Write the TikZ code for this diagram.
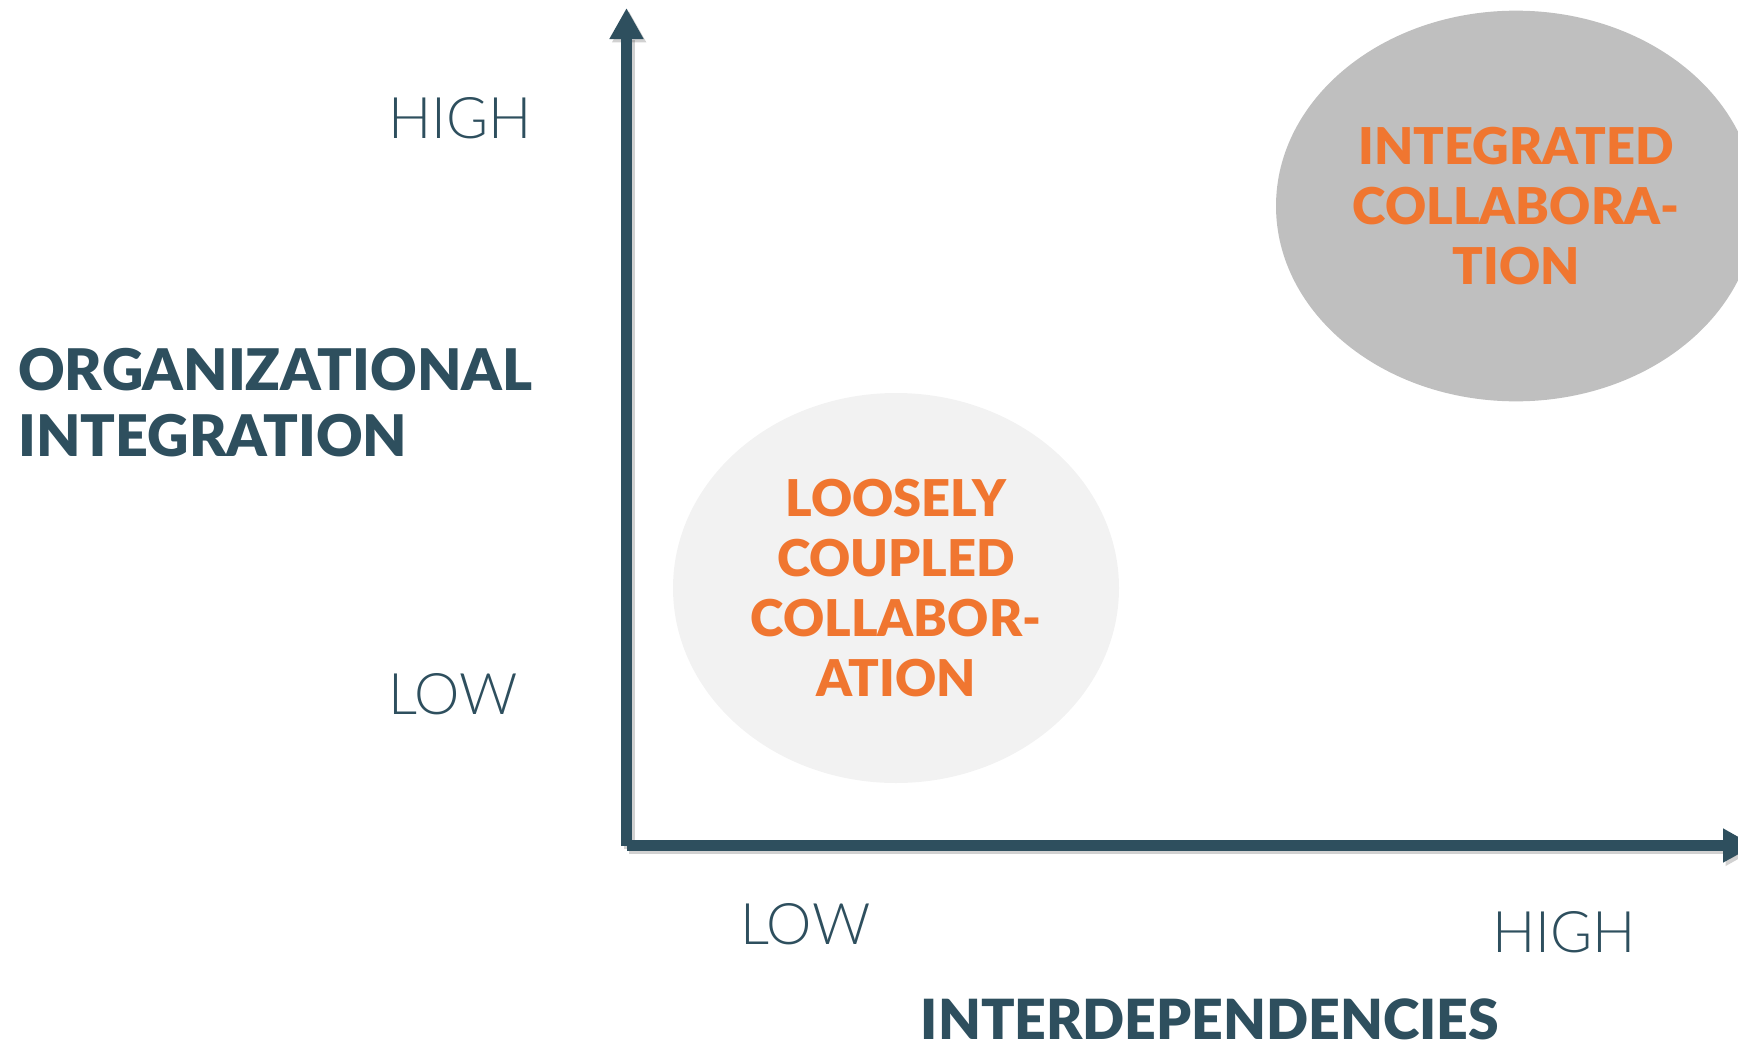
\documentclass[tikz,border=0pt]{standalone}
\usepackage{fontspec}
\setmainfont{Lato}
\newfontfamily\latolight{Lato Light}
\newfontfamily\latoblack{Lato Black}
\usepackage{tikz}
\usetikzlibrary{arrows.meta}
\usetikzlibrary{shapes.geometric}
\definecolor{axisblue}{RGB}{46,79,94}
\definecolor{quadorange}{RGB}{240,118,48}
\definecolor{bubblegrey}{RGB}{191,191,191}
\definecolor{bubblelight}{RGB}{242,242,242}
\tikzset{
  axis/.style={draw=axisblue, line width=8.25pt, line cap=butt, -{Triangle[width=24pt, length=23.25pt]}},
  axisshadow/.style={draw=black, opacity=0.18, line width=8.25pt, line cap=butt, -{Triangle[width=24pt, length=23.25pt]}},
  bubble/.style={ellipse, inner sep=0pt, align=center, text=quadorange, font=\latoblack\fontsize{38}{45}\selectfont},
  scalelabel/.style={inner sep=0pt, text=axisblue, font=\latolight\fontsize{43}{50}\selectfont},
  axistitle/.style={inner sep=0pt, text=axisblue, font=\latoblack\fontsize{43}{49.5}\selectfont}
}

\begin{document}
\begin{tikzpicture}[x=0.75pt,y=0.75pt,yscale=-1,xscale=1]
\useasboundingbox (0,0) rectangle (1738,1042);
\clip (0,0) rectangle (1738,1042);

%Bubbles
\node[bubble, fill=bubblelight, minimum width=334.5pt, minimum height=292.5pt] (loose) at (896,588) {LOOSELY\\COUPLED\\COLLABOR-\\ATION};
\node[bubble, fill=bubblegrey, minimum width=360pt, minimum height=293pt] (integrated) at (1516,206) {INTEGRATED\\COLLABORA-\\TION};

%Axes
\coordinate (origin) at (626.5,845.5);
\coordinate (ytop) at (626.5,8);
\coordinate (xend) at (1754,845.5);
\draw[axisshadow, transform canvas={shift={(2pt,-2.5pt)}}] (origin) -- (ytop);
\draw[axisshadow, transform canvas={shift={(2pt,-2.5pt)}}] (origin) -- (xend);
\draw[axis] (origin) -- (ytop);
\draw[axis] (origin) -- (xend);

%Labels
\node[scalelabel, anchor=west] (yhigh) at (388,118) {HIGH};
\node[scalelabel, anchor=west] (ylow) at (388,694) {LOW};
\node[scalelabel, anchor=west] (xlow) at (740,924) {LOW};
\node[scalelabel, anchor=west] (xhigh) at (1492,932) {HIGH};
\node[axistitle, anchor=west, align=left] (orgint) at (18,402.5) {ORGANIZATIONAL\\INTEGRATION};
\node[axistitle, font=\latoblack\fontsize{41.5}{48}\selectfont] (interdep) at (1210,1019) {INTERDEPENDENCIES};

\end{tikzpicture}
\end{document}
